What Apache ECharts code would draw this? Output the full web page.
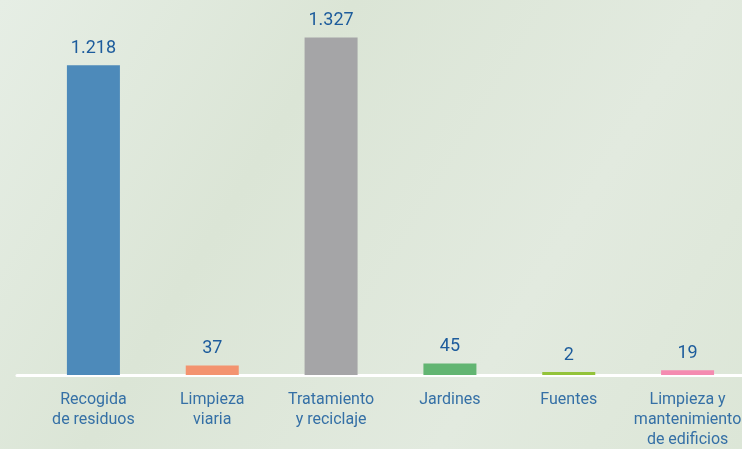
<!DOCTYPE html>
<html>
<head>
<meta charset="utf-8">
<script src="https://cdn.jsdelivr.net/npm/echarts@6/dist/echarts.min.js"></script>
<style>
  html, body { margin: 0; padding: 0; }
  #chart { width: 742px; height: 449px; }
</style>
</head>
<body>
<div id="chart"></div>
<script>
var categories = ['Recogida\nde residuos', 'Limpieza\nviaria', 'Tratamiento\ny reciclaje', 'Jardines', 'Fuentes', 'Limpieza y\nmantenimiento\nde edificios'];
var values = [1218, 37, 1327, 45, 2, 19];
var barColors = ['#4d8aba', '#f3936f', '#a5a5a7', '#62b572', '#93c33a', '#f48bb0'];

// numbers in spanish style: 1.218
function fmt(v) {
    return String(v).replace(/\B(?=(\d{3})+(?!\d))/g, '.');
}

var myChart = echarts.init(document.getElementById('chart'));

var option = {
    backgroundColor: {
        type: 'linear', x: 0, y: 0, x2: 1, y2: 1,
        colorStops: [
            { offset: 0, color: '#e6eee5' },
            { offset: 0.35, color: '#dbe5d6' },
            { offset: 0.7, color: '#e2eadf' },
            { offset: 1, color: '#dce6d7' }
        ]
    },
    grid: [
        { left: 34, top: 19, height: 356, width: 713, outerBoundsMode: 'none', containLabel: false },
        // only used for the white base line, which runs wider than the bars
        { left: 17, top: 19, height: 356, right: 0, outerBoundsMode: 'none', containLabel: false }
    ],
    xAxis: [{
        type: 'category',
        gridIndex: 0,
        data: categories,
        axisLine: { show: false },
        axisTick: { show: false },
        axisLabel: {
            interval: 0,
            color: '#3570a6',
            fontFamily: 'Roboto',
            fontSize: 16,
            lineHeight: 20,
            margin: 15
        }
    }, {
        type: 'category',
        gridIndex: 1,
        data: [''],
        axisLine: { show: true, lineStyle: { color: '#ffffff', width: 3 } },
        axisTick: { show: false },
        axisLabel: { show: false }
    }],
    yAxis: [{
        type: 'value',
        gridIndex: 0,
        min: 0,
        max: 1400,
        show: false,
        splitLine: { show: false }
    }, {
        type: 'value',
        gridIndex: 1,
        show: false
    }],
    series: [{
        type: 'bar',
        xAxisIndex: 0,
        yAxisIndex: 0,
        barWidth: 53,
        barMinHeight: 3,
        data: values.map(function (v, i) {
            return { value: v, itemStyle: { color: barColors[i] } };
        }),
        label: {
            show: true,
            position: 'top',
            distance: 8,
            color: '#1d5c9c',
            fontFamily: 'Roboto',
            fontSize: 18,
            formatter: function (p) { return fmt(p.value); }
        }
    }]
};

myChart.setOption(option);
</script>
</body>
</html>
